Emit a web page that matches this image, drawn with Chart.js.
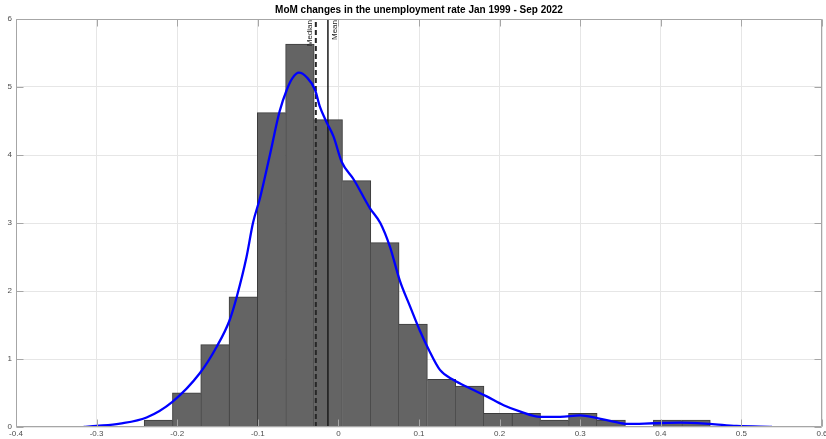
<!DOCTYPE html>
<html>
<head>
<meta charset="utf-8">
<script src="https://cdn.jsdelivr.net/npm/chart.js@4/dist/chart.umd.min.js"></script>
<style>
  html, body { margin: 0; padding: 0; background: #fff; }
  canvas { display: block; }
</style>
</head>
<body>
<canvas id="c" width="826" height="439"></canvas>
<script>
// Histogram of month-on-month changes (density scale) with a kernel density estimate
const chartTitle = 'MoM changes in the unemployment rate Jan 1999 - Sep 2022';

const binEdges = [-0.2408, -0.2057, -0.1706, -0.1355, -0.1004, -0.0653, -0.0302, 0.0049, 0.0400,
  0.0751, 0.1102, 0.1453, 0.1804, 0.2155, 0.2506, 0.2857, 0.3208, 0.3559, 0.3910, 0.4261, 0.4612];
const binDensity = [0.10, 0.50, 1.21, 1.91, 4.62, 5.63, 4.52, 3.62, 2.71, 1.51,
  0.70, 0.60, 0.20, 0.20, 0.10, 0.20, 0.10, 0, 0.10, 0.10];

const kdeX = [-0.316, -0.300, -0.271, -0.238, -0.206, -0.172, -0.151, -0.135, -0.126, -0.114,
  -0.106, -0.097, -0.085, -0.073, -0.064, -0.057, -0.049, -0.039, -0.029, -0.023,
  -0.015, -0.006, 0.004, 0.019, 0.039, 0.052, 0.064, 0.076, 0.089, 0.101,
  0.112, 0.126, 0.143, 0.163, 0.184, 0.205, 0.225, 0.250, 0.275, 0.300,
  0.321, 0.341, 0.358, 0.391, 0.424, 0.461, 0.494, 0.538];
const kdeY = [0.00, 0.015, 0.05, 0.14, 0.37, 0.79, 1.18, 1.57, 1.92, 2.50,
  3.00, 3.38, 4.00, 4.64, 4.96, 5.13, 5.21, 5.14, 4.96, 4.71,
  4.49, 4.27, 3.90, 3.64, 3.22, 3.00, 2.65, 2.16, 1.77, 1.42,
  1.14, 0.84, 0.69, 0.57, 0.45, 0.32, 0.23, 0.15, 0.15, 0.17,
  0.13, 0.08, 0.045, 0.055, 0.065, 0.045, 0.015, 0.003];

const medianValue = -0.028;
const meanValue = -0.013;

const xTicks = [-0.4, -0.3, -0.2, -0.1, 0, 0.1, 0.2, 0.3, 0.4, 0.5, 0.6];
const xTickLabels = ['-0.4', '-0.3', '-0.2', '-0.1', '0', '0.1', '0.2', '0.3', '0.4', '0.5', '0.6'];
const yTicks = [0, 1, 2, 3, 4, 5, 6];
const yTickLabels = ['0', '1', '2', '3', '4', '5', '6'];

const FONT = "'Liberation Sans', Arial, Helvetica, sans-serif";
const FRAME = '#a6a6a6';

const barPoints = binDensity.map((v, i) => ({ x: (binEdges[i] + binEdges[i + 1]) / 2, y: v }));
const kdePoints = kdeX.map((x, i) => ({ x, y: kdeY[i] }));
const yTop = yTicks[yTicks.length - 1];

// each shared bar edge is outlined once, by the taller of the two neighbours
const barEdges = ctx => {
  const i = ctx.dataIndex;
  const v = binDensity[i];
  const prev = i > 0 ? binDensity[i - 1] : -1;
  const next = i < binDensity.length - 1 ? binDensity[i + 1] : -1;
  return { top: 1, bottom: 0, left: prev <= v ? 1 : 0, right: next < v ? 1 : 0 };
};

// axes box with inward tick marks on all four sides
const axesBox = {
  id: 'axesBox',
  afterDatasetsDraw(chart) {
    const { ctx, chartArea: a, scales: { x, y } } = chart;
    const L = Math.round(a.left) + 0.5, R = Math.round(a.right) - 0.5;
    const T = Math.round(a.top) + 0.5, B = Math.round(a.bottom) - 0.5;
    const len = 7;
    ctx.save();
    ctx.strokeStyle = FRAME;
    ctx.lineWidth = 1;
    ctx.beginPath();
    ctx.rect(L, T, R - L, B - T);
    xTicks.forEach(v => {
      const px = Math.round(x.getPixelForValue(v)) + 0.5;
      ctx.moveTo(px, B); ctx.lineTo(px, B - len);
      ctx.moveTo(px, T); ctx.lineTo(px, T + len);
    });
    yTicks.forEach(v => {
      const py = Math.round(y.getPixelForValue(v)) + 0.5;
      ctx.moveTo(L, py); ctx.lineTo(L + len, py);
      ctx.moveTo(R, py); ctx.lineTo(R - len, py);
    });
    ctx.stroke();
    ctx.restore();
  }
};

// vertical labels beside the median and mean lines, plus the title
const annotations = {
  id: 'annotations',
  afterDraw(chart) {
    const { ctx, chartArea: a, scales: { x } } = chart;
    ctx.save();
    ctx.fillStyle = '#1a1a1a';
    ctx.font = '8px ' + FONT;

    const mx = x.getPixelForValue(medianValue);
    ctx.save();
    ctx.translate(mx - 2, a.top + 1);
    ctx.rotate(-Math.PI / 2);
    ctx.textAlign = 'right';
    ctx.textBaseline = 'bottom';
    ctx.fillText('Median', 0, 0);
    ctx.restore();

    const ex = x.getPixelForValue(meanValue);
    ctx.save();
    ctx.translate(ex + 3, a.top + 1);
    ctx.rotate(-Math.PI / 2);
    ctx.textAlign = 'right';
    ctx.textBaseline = 'top';
    ctx.fillText('Mean', 0, 0);
    ctx.restore();

    ctx.fillStyle = '#000';
    ctx.font = 'bold 10px ' + FONT;
    ctx.textAlign = 'center';
    ctx.textBaseline = 'middle';
    ctx.fillText(chartTitle, (a.left + a.right) / 2, a.top - 9);
    ctx.restore();
  }
};

new Chart(document.getElementById('c'), {
  type: 'bar',
  data: {
    datasets: [
      {
        type: 'line',
        data: kdePoints,
        borderColor: '#0000ff',
        borderWidth: 2.3,
        pointRadius: 0,
        cubicInterpolationMode: 'monotone',
        fill: false,
        order: 0
      },
      {
        type: 'line',
        data: [{ x: meanValue, y: 0 }, { x: meanValue, y: yTop }],
        borderColor: '#1a1a1a',
        borderWidth: 1.5,
        pointRadius: 0,
        fill: false,
        order: 1
      },
      {
        type: 'line',
        data: [{ x: medianValue, y: 0 }, { x: medianValue, y: yTop }],
        borderColor: '#262626',
        borderWidth: 2,
        borderDash: [5, 3],
        pointRadius: 0,
        fill: false,
        order: 1
      },
      {
        type: 'bar',
        data: barPoints,
        backgroundColor: '#646464',
        borderColor: '#3c3c3c',
        borderWidth: barEdges,
        borderSkipped: false,
        inflateAmount: 0.5,
        barPercentage: 1,
        categoryPercentage: 1,
        order: 2
      }
    ]
  },
  options: {
    responsive: false,
    animation: false,
    layout: { padding: { top: 19, right: 4, left: 0, bottom: 0 } },
    plugins: { legend: { display: false }, tooltip: { enabled: false }, title: { display: false } },
    scales: {
      x: {
        type: 'linear',
        min: -0.4,
        max: 0.6,
        offset: false,
        afterBuildTicks: s => { s.ticks = xTicks.map(v => ({ value: v })); },
        afterFit: s => { s.height = 12; s.paddingLeft = 0; s.paddingRight = 0; },
        ticks: {
          autoSkip: false,
          maxRotation: 0,
          padding: 2,
          color: '#4d4d4d',
          font: { family: FONT, size: 8 },
          callback: (v, i) => xTickLabels[i]
        },
        grid: { color: '#e6e6e6', drawTicks: false, offset: false },
        border: { display: false }
      },
      y: {
        type: 'linear',
        min: 0,
        max: 6,
        afterBuildTicks: s => { s.ticks = yTicks.map(v => ({ value: v })); },
        afterFit: s => { s.width = 16; s.paddingTop = 0; s.paddingBottom = 0; },
        ticks: {
          padding: 4,
          color: '#4d4d4d',
          font: { family: FONT, size: 8 },
          callback: (v, i) => yTickLabels[i]
        },
        grid: { color: '#e6e6e6', drawTicks: false },
        border: { display: false }
      }
    }
  },
  plugins: [axesBox, annotations]
});
</script>
</body>
</html>
